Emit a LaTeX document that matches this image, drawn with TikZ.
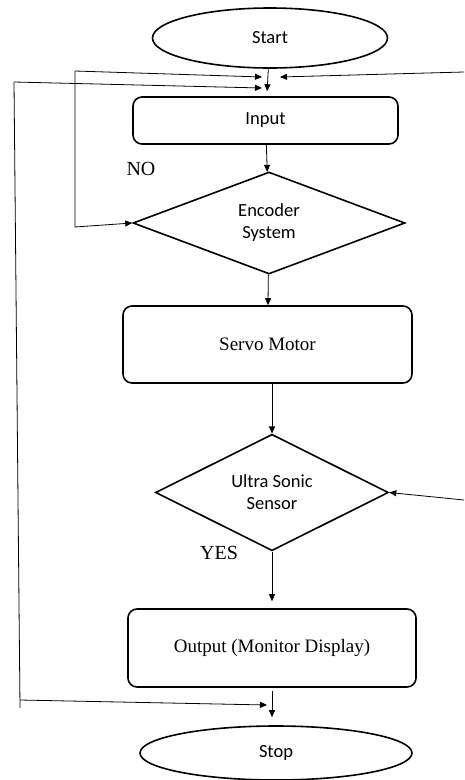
\documentclass[tikz,border=0pt]{standalone}
\usepackage{fontspec}
\setmainfont{Liberation Serif}
\newfontfamily\calibri{Carlito}
\usetikzlibrary{shapes.geometric}
\usetikzlibrary{arrows.meta, positioning, calc}

\begin{document}
\begin{tikzpicture}[x=1pt, y=-1pt,
    term/.style={ellipse, draw, line width=1.6pt, inner sep=0pt, font=\calibri\fontsize{18.5}{21}\selectfont},
    proc/.style={rectangle, rounded corners=9pt, draw, line width=1.6pt, inner sep=0pt},
    decide/.style={diamond, draw, line width=1.6pt, inner sep=0pt, align=center, font=\calibri\fontsize{18.5}{22}\selectfont},
    arr/.style={-{Triangle[length=7pt, width=6pt]}, line width=0.8pt},
    lbl/.style={font=\fontsize{20}{22}\selectfont}]
    \useasboundingbox (0,0) rectangle (464,780);

    % Nodes
    \node[term, minimum width=235, minimum height=60] (start) at (270, 38) {Start};
    \node[proc, minimum width=265, minimum height=47, font=\calibri\fontsize{18.5}{21}\selectfont] (input) at (265.5, 120.5) {Input};
    \node[decide, minimum width=272, minimum height=102] (enc) at (269, 223) {Encoder\\System};
    \node[proc, minimum width=289, minimum height=77, font=\fontsize{19}{22}\selectfont] (servo) at (267.5, 344.5) {Servo Motor};
    \node[decide, minimum width=233, minimum height=111] (ultra) at (272, 492.5) {Ultra Sonic\\Sensor};
    \node[proc, minimum width=288, minimum height=78, font=\fontsize{19}{22}\selectfont] (output) at (272, 648) {Output (Monitor Display)};
    \node[term, minimum width=272, minimum height=54] (stop) at (276, 753) {Stop};

    \node[lbl] (no) at (141, 169) {NO};
    \node[lbl] (yes) at (219, 553) {YES};

    % Loop points
    \coordinate (noTop) at (75, 71);
    \coordinate (noBot) at (75, 227);
    \coordinate (inL1) at (262, 77);
    \coordinate (outTop) at (14, 82);
    \coordinate (outBot) at (20, 700);
    \coordinate (outEnd) at (20, 708);
    \coordinate (inL2) at (262, 88);
    \coordinate (stopIn) at (267, 705);
    \coordinate (rightTop) at (464, 72);
    \coordinate (inR) at (280, 77);
    \coordinate (rightLow) at (464, 500);

    % Edges
    \draw[arr, shorten >=5pt] (start) -- (input);
    \draw[arr] (input) -- (enc);
    \draw[arr] (enc) -- (servo);
    \draw[arr] (servo.south -| ultra.north) -- (ultra.north);
    \draw[arr, shorten >=7pt] (ultra.south) -- (output.north -| ultra.south);
    \draw[arr, shorten <=3pt, shorten >=8pt] (output.south -| ultra.south) -- (stop.north -| ultra.south);

    % Feedback lines
    \draw[arr] (noTop) -- (inL1);
    \draw[arr] (noTop) -- (noBot) -- (enc.west);
    \draw[arr] (outTop) -- (inL2);
    \draw[line width=0.8pt] (outTop) -- (outEnd);
    \draw[arr] (outBot) -- (stopIn);
    \draw[arr] (rightTop) -- (inR);
    \draw[arr] (rightLow) -- (ultra.east);
\end{tikzpicture}
\end{document}
